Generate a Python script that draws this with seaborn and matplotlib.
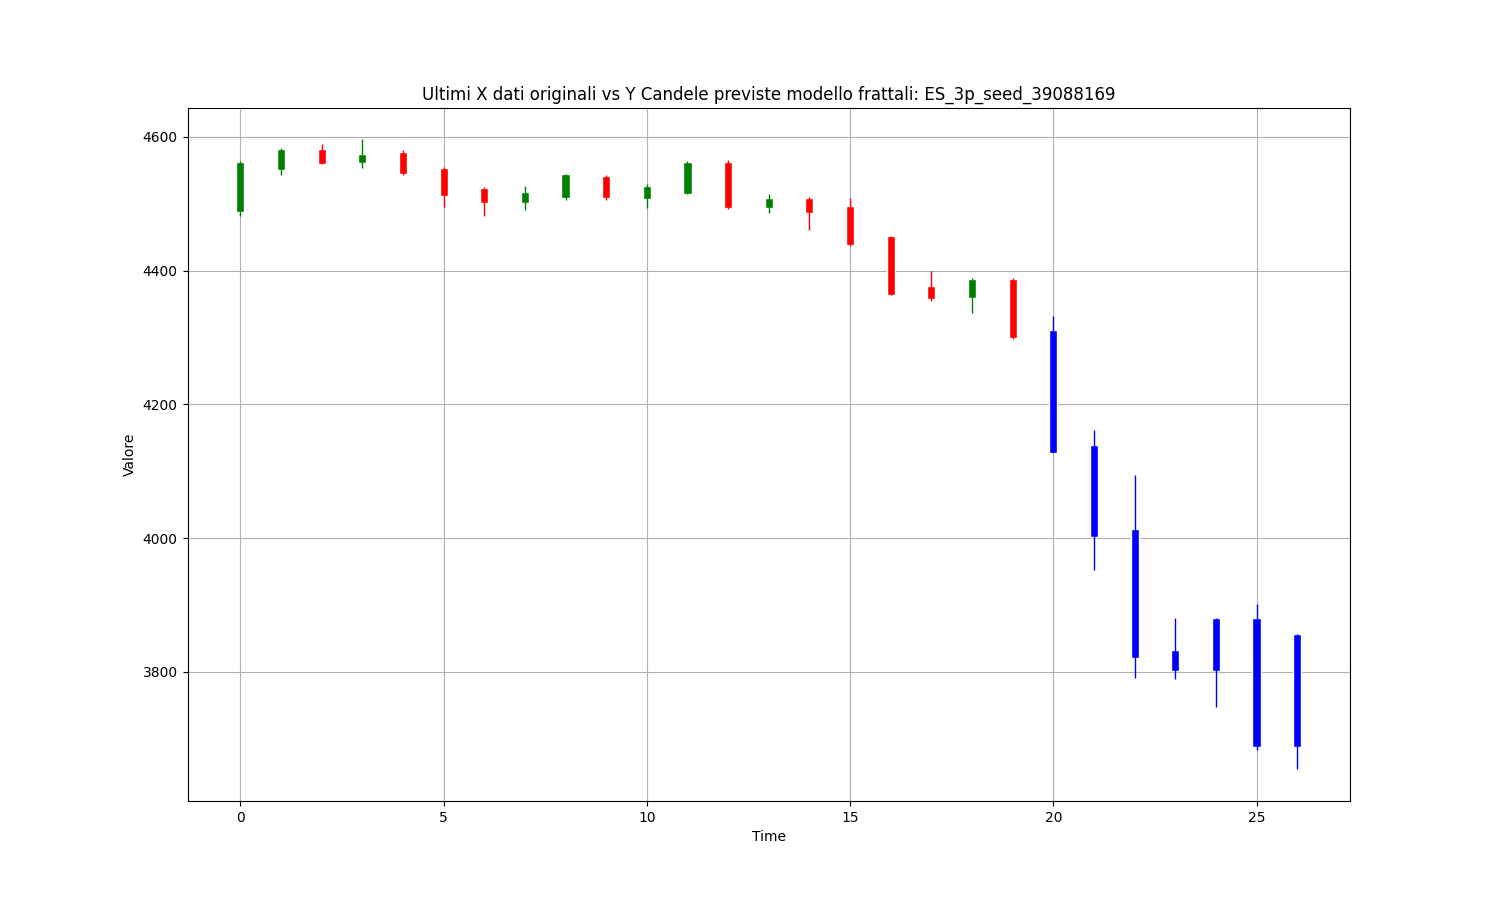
import matplotlib
matplotlib.use("Agg")
import matplotlib.pyplot as plt
import numpy as np
import seaborn as sns

# ultimi dati originali (OHLC)
hist_open = [4488, 4551, 4582, 4561, 4577, 4554, 4524, 4501, 4508, 4542,
             4507, 4515, 4563, 4493, 4509, 4497, 4451, 4377, 4359, 4388]
hist_high = [4564, 4583, 4590, 4596, 4580, 4555, 4525, 4527, 4545, 4543,
             4530, 4564, 4566, 4514, 4510, 4508, 4452, 4399, 4389, 4389]
hist_low = [4481, 4543, 4559, 4554, 4543, 4495, 4481, 4490, 4506, 4505,
            4493, 4514, 4492, 4486, 4460, 4437, 4363, 4355, 4336, 4298]
hist_close = [4563, 4582, 4560, 4574, 4544, 4512, 4501, 4518, 4544, 4508,
              4527, 4563, 4493, 4508, 4486, 4438, 4364, 4357, 4388, 4299]

# candele previste
pred_open = [4311, 4139, 4013, 3833, 3881, 3881, 3857]
pred_high = [4332, 4162, 4095, 3880, 3881, 3902, 3857]
pred_low = [4127, 3953, 3791, 3790, 3748, 3683, 3654]
pred_close = [4127, 4001, 3821, 3802, 3802, 3687, 3687]

sns.set_style("ticks", {"axes.grid": True, "grid.color": "#b0b0b0",
                        "axes.edgecolor": "black", "xtick.color": "black",
                        "ytick.color": "black", "xtick.direction": "out",
                        "ytick.direction": "out", "text.color": "black",
                        "axes.labelcolor": "black"})
plt.rcParams["font.family"] = ["DejaVu Sans"]
plt.rcParams["font.size"] = 10

opens = np.array(hist_open + pred_open)
highs = np.array(hist_high + pred_high)
lows = np.array(hist_low + pred_low)
closes = np.array(hist_close + pred_close)
t = np.arange(len(opens))

colors = []
for i in range(len(t)):
    if i >= len(hist_open):
        colors.append("blue")
    elif closes[i] >= opens[i]:
        colors.append("green")
    else:
        colors.append("red")

fig, ax = plt.subplots(figsize=(15, 9), dpi=100)
ax.vlines(t, lows, highs, colors=colors, linewidth=1)
ax.bar(t, np.abs(closes - opens), bottom=np.minimum(opens, closes),
       width=0.2, color=colors)

ax.set_xlim(-1.3, 27.3)
ax.set_title("Ultimi X dati originali vs Y Candele previste modello frattali: ES_3p_seed_39088169",
             fontsize=12, color="black")
ax.set_xlabel("Time", color="black")
ax.set_ylabel("Valore", color="black")
ax.grid(True)
ax.set_axisbelow(True)

fig.subplots_adjust(left=0.125, right=0.9, bottom=0.11, top=0.88)
fig.savefig("out.png", dpi=100)
